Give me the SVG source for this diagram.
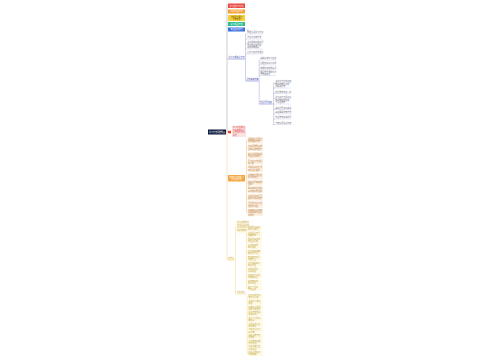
<svg xmlns="http://www.w3.org/2000/svg" width="500" height="360" viewBox="0 0 500 360">
<style>
text{font-family:"Noto Sans CJK SC","Noto Sans",sans-serif;font-size:2px}
.tw{fill:#fff}
.ul{fill:#6a6a7a}
.ull{stroke:#c5c8ea;stroke-width:0.4}
.cu{stroke:#a3a7d9;stroke-width:0.5;fill:none}
.co{stroke:#f0c48a;stroke-width:0.5;fill:none}
.cy{stroke:#f2dc86;stroke-width:0.5;fill:none}
.cg{stroke:#b8b8b8;stroke-width:0.7;fill:none}
.ob{fill:#fdf0e1}
.ot{fill:#b9834a}
.yb{fill:#fffae3}
.yt{fill:#bfa546}
.bt{fill:#3a47a3}
.bl{stroke:#5a64c8;stroke-width:0.5}
</style>
<rect width="500" height="360" fill="#fff"/>
<g id="connectors">
<path class="cg" d="M226 132 H227 M227 4 V132"/>
<path class="co" d="M227 132 V260"/>
<path class="cu" d="M227 59 H228 M245 59 H245.5 M245.5 34 V81 M245.5 34 H247 M245.5 39 H247 M245.5 44 H247 M245.5 49 H247 M245.5 54 H247 M245.5 81 H246"/>
<path class="cu" d="M258 81 H259.2 M259.2 60 V104 M259.2 60 H260 M259.2 65 H260 M259.2 70 H260 M259.2 75.5 H260 M259.2 104 H259.8"/>
<path class="cu" d="M272 104 H273.6 M273.6 83 V125 M273.6 83 H275 M273.6 88 H275 M273.6 93.5 H275 M273.6 98.5 H275 M273.6 104 H275 M273.6 109.5 H275 M273.6 114 H275 M273.6 119 H275 M273.6 124.5 H275"/>
<path class="co" d="M227 132 H228 M227 178 H228 M245 178 H246.5 M246.5 140 V213 M246.5 140 H247.5 M246.5 147.5 H247.5 M246.5 155 H247.5 M246.5 162 H247.5 M246.5 168.5 H247.5 M246.5 176 H247.5 M246.5 183 H247.5 M246.5 189.5 H247.5 M246.5 197 H247.5 M246.5 204.5 H247.5 M246.5 212 H247.5"/>
<path class="cy" d="M227 260 H228 M234 260 H235.5 M235.5 227 V294 M235.5 227 H236.5 M235.5 294 H236.5"/>
<path class="cy" d="M249.5 227 H246.5 M246.5 228.5 V288.5 M246.5 228.5 H247.5 M246.5 234.5 H247.5 M246.5 240.5 H247.5 M246.5 246.5 H247.5 M246.5 252.5 H247.5 M246.5 258.5 H247.5 M246.5 264.5 H247.5 M246.5 270.5 H247.5 M246.5 276.5 H247.5 M246.5 282.5 H247.5 M246.5 288.5 H247.5"/>
<path class="cy" d="M246 294 H247.2 M247.2 296.5 V353.5 M247.2 296.5 H248 M247.2 302.2 H248 M247.2 307.9 H248 M247.2 313.6 H248 M247.2 319.3 H248 M247.2 325 H248 M247.2 330.7 H248 M247.2 336.4 H248 M247.2 342.1 H248 M247.2 347.8 H248 M247.2 353.5 H248"/>
</g>
<g id="root"><rect x="208" y="129.5" width="18" height="5" fill="#101a3e"/><text class="tw" x="217" y="132.7" text-anchor="middle">学习方法思维导图</text></g>
<g id="t1"><rect x="228" y="3.5" width="17" height="4.5" fill="#e8473d"/><text class="tw" x="236.5" y="6.5" text-anchor="middle">学习目标与计划</text></g>
<g id="t2"><rect x="228" y="9.5" width="17" height="4" fill="#f4a033"/><text class="tw" x="236.5" y="12.2" text-anchor="middle">时间管理方法</text></g>
<g id="t3"><rect x="228" y="15" width="17" height="6" fill="#f6cf3c"/><text text-anchor="middle" fill="#6b5500"><tspan x="236.5" y="17.6">课前预习要点</tspan><tspan x="236.5" y="20">课堂笔记</tspan></text></g>
<g id="t4"><rect x="228" y="22" width="17" height="4" fill="#2dbd8f"/><text class="tw" x="236.5" y="24.7" text-anchor="middle">复习巩固方法</text></g>
<g id="t5"><rect x="228" y="27.5" width="17" height="4" fill="#3e6fdf"/><text class="tw" x="236.5" y="30.2" text-anchor="middle">考试应对技巧</text><rect x="247" y="29.5" width="1.6" height="1.6" fill="#c8cbd8"/></g>
<g id="b1"><text class="bt" x="228.5" y="58.3">学习习惯培养方法</text><line class="bl" x1="228" y1="59" x2="245" y2="59"/></g>
<g id="u1"><text class="ul" x="247.3" y="33.4">制定合理学习计划</text><line class="ull" x1="247" y1="34" x2="263" y2="34"/></g>
<g id="u2"><text class="ul" x="247.3" y="38.4">专注力训练方法</text><line class="ull" x1="247" y1="39" x2="263" y2="39"/></g>
<g id="u3"><text class="ul" x="247.3" y="43.4">主动思考积极提问</text><line class="ull" x1="247" y1="44" x2="263" y2="44"/></g>
<g id="u4"><text class="ul"><tspan x="247.3" y="46.2">及时整理错题并</tspan><tspan x="247.3" y="48.4">总结归纳规律</tspan></text><line class="ull" x1="247" y1="49" x2="263" y2="49"/></g>
<g id="u5"><text class="ul" x="247.3" y="53.4">保持良好作息规律</text><line class="ull" x1="247" y1="54" x2="263" y2="54"/></g>
<g id="b2"><text class="bt" x="246.3" y="80.3">具体实施步骤</text><line class="bl" x1="246" y1="81" x2="258" y2="81"/></g>
<g id="u6"><text class="ul" x="260.3" y="59.4">明确每天学习任务</text><line class="ull" x1="260" y1="60" x2="276" y2="60"/></g>
<g id="u7"><text class="ul" x="260.3" y="64.4">分配各科学习时间</text><line class="ull" x1="260" y1="65" x2="276" y2="65"/></g>
<g id="u8"><text class="ul" x="260.3" y="69.4">定期检查完成情况</text><line class="ull" x1="260" y1="70" x2="276" y2="70"/></g>
<g id="u9"><text class="ul"><tspan x="260.3" y="72.7">根据效果调整学习</tspan><tspan x="260.3" y="74.9">方法和进度</tspan></text><line class="ull" x1="260" y1="75.5" x2="276" y2="75.5"/></g>
<g id="b3"><text class="bt" x="259.8" y="103.3">常见问题对策</text><line class="bl" x1="259.5" y1="104" x2="272" y2="104"/></g>
<g id="u10"><text class="ul" x="275.3" y="82.4">注意力不集中对策</text><line class="ull" x1="275" y1="83" x2="291" y2="83"/></g>
<g id="u11"><text class="ul"><tspan x="275.3" y="85.2">拖延的原因分析</tspan><tspan x="275.3" y="87.4">及解决办法</tspan></text><line class="ull" x1="275" y1="88" x2="291" y2="88"/></g>
<g id="u12"><text class="ul" x="275.3" y="92.9">记忆效率低怎么办</text><line class="ull" x1="275" y1="93.5" x2="291" y2="93.5"/></g>
<g id="u13"><text class="ul" x="275.3" y="97.9">学习动力不足改善</text><line class="ull" x1="275" y1="98.5" x2="291" y2="98.5"/></g>
<g id="u14"><text class="ul"><tspan x="275.3" y="101.2">考试焦虑的缓解</tspan><tspan x="275.3" y="103.4">与心理调节</tspan></text><line class="ull" x1="275" y1="104" x2="291" y2="104"/></g>
<g id="u15"><text class="ul" x="275.3" y="108.9">偏科问题如何解决</text><line class="ull" x1="275" y1="109.5" x2="291" y2="109.5"/></g>
<g id="u16"><text class="ul" x="275.3" y="113.4">基础薄弱补救方法</text><line class="ull" x1="275" y1="114" x2="291" y2="114"/></g>
<g id="u17"><text class="ul" x="275.3" y="118.4">作业效率提高技巧</text><line class="ull" x1="275" y1="119" x2="291" y2="119"/></g>
<g id="u18"><text class="ul" x="275.3" y="123.9">与老师同学多交流</text><line class="ull" x1="275" y1="124.5" x2="291" y2="124.5"/></g>
<g id="p1"><rect x="228" y="130.8" width="3" height="2.5" fill="#e8473d"/><rect x="232" y="126" width="14" height="11" fill="#fde3e3"/><text fill="#e24a4a"><tspan x="232.7" y="128.4">学习的重要性</tspan><tspan x="232.7" y="130.8">与基本原则以</tspan><tspan x="232.7" y="133.2">及常用的方法</tspan><tspan x="232.7" y="135.6">总结</tspan></text></g>
<g id="o1"><rect x="228" y="175" width="17" height="6.5" fill="#f3a642"/><text class="tw" text-anchor="middle"><tspan x="236.5" y="177.6">高效学习的核心</tspan><tspan x="236.5" y="180.2">技巧和方法</tspan></text></g>
<g id="o2"><rect class="ob" x="247.5" y="137" width="15.5" height="6.5"/><text class="ot"><tspan x="248" y="139.5">理解记忆比死记</tspan><tspan x="248" y="142">硬背更加有效</tspan></text></g>
<g id="o3"><rect class="ob" x="247.5" y="144.5" width="15.5" height="6.5"/><text class="ot"><tspan x="248" y="147">利用思维导图梳</tspan><tspan x="248" y="149.5">理知识结构框架</tspan></text></g>
<g id="o4"><rect class="ob" x="247.5" y="152" width="15.5" height="6.5"/><text class="ot"><tspan x="248" y="154.5">番茄工作法提高</tspan><tspan x="248" y="157">专注时间效率</tspan></text></g>
<g id="o5"><rect class="ob" x="247.5" y="159.5" width="15.5" height="5"/><text class="ot"><tspan x="248" y="161.6">费曼学习法讲给</tspan><tspan x="248" y="163.8">别人听</tspan></text></g>
<g id="o6"><rect class="ob" x="247.5" y="165.5" width="15.5" height="6.5"/><text class="ot"><tspan x="248" y="168">间隔重复记忆法</tspan><tspan x="248" y="170.5">对抗遗忘曲线</tspan></text></g>
<g id="o7"><rect class="ob" x="247.5" y="173" width="15.5" height="6.5"/><text class="ot"><tspan x="248" y="175.5">多做练习题检验</tspan><tspan x="248" y="178">学习的效果</tspan></text></g>
<g id="o8"><rect class="ob" x="247.5" y="180.5" width="15.5" height="5"/><text class="ot"><tspan x="248" y="182.6">建立错题本定期</tspan><tspan x="248" y="184.8">回顾</tspan></text></g>
<g id="o9"><rect class="ob" x="247.5" y="186.5" width="15.5" height="6.5"/><text class="ot"><tspan x="248" y="189">联系实际生活加</tspan><tspan x="248" y="191.5">深对知识的理解</tspan></text></g>
<g id="o10"><rect class="ob" x="247.5" y="194" width="15.5" height="6.5"/><text class="ot"><tspan x="248" y="196.5">小组合作讨论互</tspan><tspan x="248" y="199">相学习共同进步</tspan></text></g>
<g id="o11"><rect class="ob" x="247.5" y="201.5" width="15.5" height="6.5"/><text class="ot"><tspan x="248" y="204">课后及时复习当</tspan><tspan x="248" y="206.5">天所学内容</tspan></text></g>
<g id="o12"><rect class="ob" x="247.5" y="209" width="15.5" height="7"/><text class="ot"><tspan x="248" y="211.1">劳逸结合保证充</tspan><tspan x="248" y="213.3">足睡眠和适当运</tspan><tspan x="248" y="215.5">动休息</tspan></text></g>
<g id="y0"><text x="228.3" y="259.4" fill="#d9ad1f">其他项</text><line x1="228" y1="260" x2="234" y2="260" stroke="#f0cf55" stroke-width="0.5"/></g>
<g id="y1"><rect x="236.5" y="221" width="13" height="12" class="yb"/><text class="yt"><tspan x="237" y="223.4">学习资源的选</tspan><tspan x="237" y="225.8">择与合理利用</tspan><tspan x="237" y="228.2">以及学习工具</tspan><tspan x="237" y="230.6">的使用推荐</tspan></text></g>
<g id="y2"><text x="236.8" y="293.4" fill="#c9a43a">补充说明</text><line x1="236.5" y1="294" x2="246" y2="294" stroke="#f0d36a" stroke-width="0.5"/></g>
<g id="ya1"><rect class="yb" x="247.5" y="226" width="14.5" height="5"/><text class="yt"><tspan x="248" y="228.1">教材是最基础</tspan><tspan x="248" y="230.3">的学习资料</tspan></text></g>
<g id="ya2"><rect class="yb" x="247.5" y="232" width="14.5" height="5"/><text class="yt"><tspan x="248" y="234.1">选择适合自己</tspan><tspan x="248" y="236.3">的辅导书</tspan></text></g>
<g id="ya3"><rect class="yb" x="247.5" y="238" width="14.5" height="5"/><text class="yt"><tspan x="248" y="240.1">网络课程资源</tspan><tspan x="248" y="242.3">的合理利用</tspan></text></g>
<g id="ya4"><rect class="yb" x="247.5" y="244" width="14.5" height="5"/><text class="yt"><tspan x="248" y="246.1">图书馆资源</tspan><tspan x="248" y="248.3">查阅资料</tspan></text></g>
<g id="ya5"><rect class="yb" x="247.5" y="250" width="14.5" height="5"/><text class="yt"><tspan x="248" y="252.1">学习类软件辅</tspan><tspan x="248" y="254.3">助记忆单词</tspan></text></g>
<g id="ya6"><rect class="yb" x="247.5" y="256" width="14.5" height="5"/><text class="yt"><tspan x="248" y="258.1">笔记本与文具</tspan><tspan x="248" y="260.3">准备齐全</tspan></text></g>
<g id="ya7"><rect class="yb" x="247.5" y="262" width="14.5" height="5"/><text class="yt"><tspan x="248" y="264.1">真题试卷练习</tspan><tspan x="248" y="266.3">熟悉题型</tspan></text></g>
<g id="ya8"><rect class="yb" x="247.5" y="268" width="14.5" height="5"/><text class="yt"><tspan x="248" y="270.1">向优秀同学</tspan><tspan x="248" y="272.3">请教经验</tspan></text></g>
<g id="ya9"><rect class="yb" x="247.5" y="274" width="14.5" height="5"/><text class="yt"><tspan x="248" y="276.1">利用碎片时间</tspan><tspan x="248" y="278.3">背诵知识点</tspan></text></g>
<g id="ya10"><rect class="yb" x="247.5" y="280" width="14.5" height="5"/><text class="yt"><tspan x="248" y="282.1">营造安静的</tspan><tspan x="248" y="284.3">学习环境</tspan></text></g>
<g id="ya11"><rect class="yb" x="247.5" y="286" width="14.5" height="5"/><text class="yt"><tspan x="248" y="288.1">减少手机等</tspan><tspan x="248" y="290.3">干扰因素</tspan></text></g>
<g id="yb1"><rect class="yb" x="248" y="294" width="15" height="5"/><text class="yt"><tspan x="248.5" y="296.1">保持积极乐观</tspan><tspan x="248.5" y="298.3">的学习心态</tspan></text></g>
<g id="yb2"><rect class="yb" x="248" y="299.7" width="15" height="5"/><text class="yt"><tspan x="248.5" y="301.8">正确看待考试</tspan><tspan x="248.5" y="304">成绩</tspan></text></g>
<g id="yb3"><rect class="yb" x="248" y="305.4" width="15" height="5"/><text class="yt"><tspan x="248.5" y="307.5">设定阶段性目</tspan><tspan x="248.5" y="309.7">标并奖励自己</tspan></text></g>
<g id="yb4"><rect class="yb" x="248" y="311.1" width="15" height="5"/><text class="yt"><tspan x="248.5" y="313.2">学会自我反思</tspan><tspan x="248.5" y="315.4">总结得失</tspan></text></g>
<g id="yb5"><rect class="yb" x="248" y="316.8" width="15" height="5"/><text class="yt"><tspan x="248.5" y="318.9">培养广泛的兴</tspan><tspan x="248.5" y="321.1">趣爱好</tspan></text></g>
<g id="yb6"><rect class="yb" x="248" y="322.5" width="15" height="5"/><text class="yt"><tspan x="248.5" y="324.6">坚持每天阅读</tspan><tspan x="248.5" y="326.8">积累知识</tspan></text></g>
<g id="yb7"><rect class="yb" x="248" y="328.2" width="15" height="5"/><text class="yt"><tspan x="248.5" y="330.3">与家长保持良</tspan><tspan x="248.5" y="332.5">好沟通</tspan></text></g>
<g id="yb8"><rect class="yb" x="248" y="333.9" width="15" height="5"/><text class="yt"><tspan x="248.5" y="336">遇到困难不轻</tspan><tspan x="248.5" y="338.2">易放弃</tspan></text></g>
<g id="yb9"><rect class="yb" x="248" y="339.6" width="15" height="5"/><text class="yt"><tspan x="248.5" y="341.7">合理安排假期</tspan><tspan x="248.5" y="343.9">学习时间</tspan></text></g>
<g id="yb10"><rect class="yb" x="248" y="345.3" width="15" height="5"/><text class="yt"><tspan x="248.5" y="347.4">注意用眼卫生</tspan><tspan x="248.5" y="349.6">保护视力</tspan></text></g>
<g id="yb11"><rect class="yb" x="248" y="351" width="15" height="5"/><text class="yt"><tspan x="248.5" y="353.1">持之以恒终会</tspan><tspan x="248.5" y="355.3">有所收获</tspan></text></g>
</svg>
